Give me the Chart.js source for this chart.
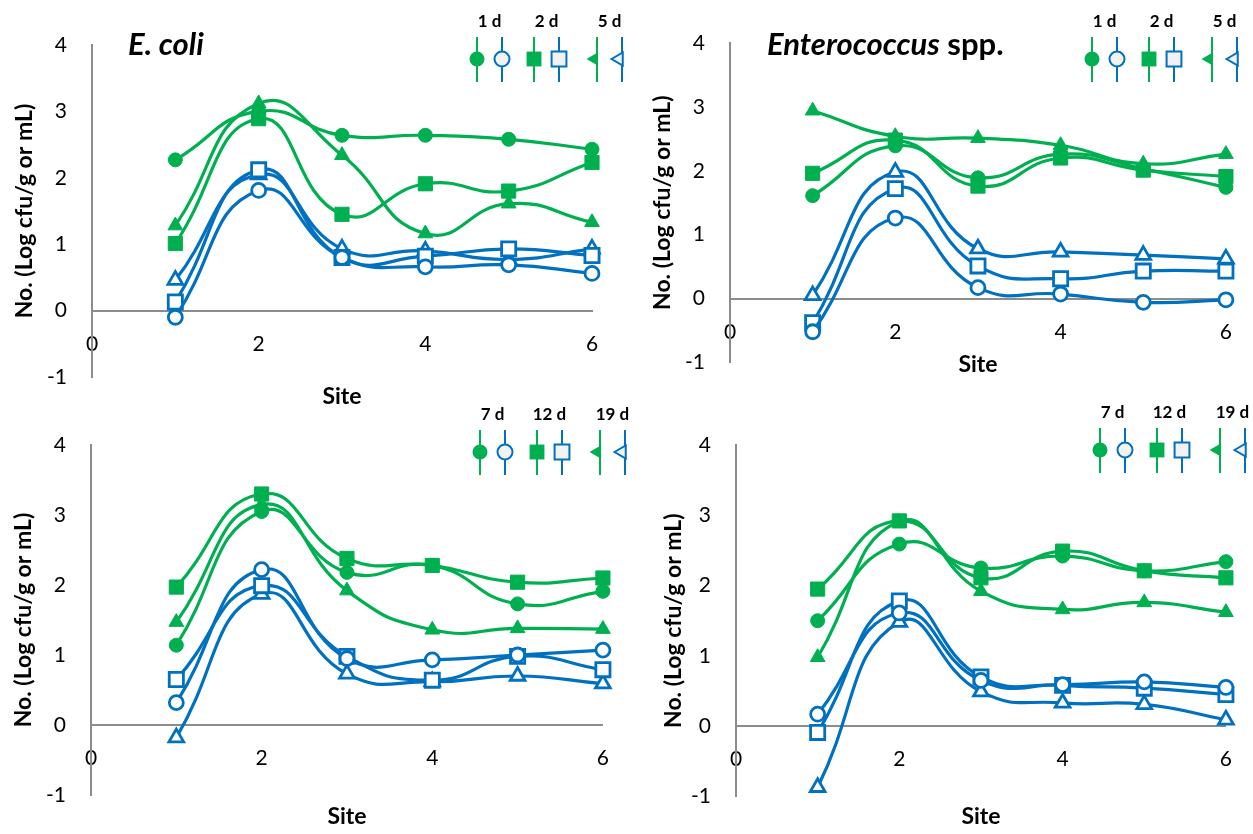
<!DOCTYPE html>
<html>
<head>
<meta charset="utf-8">
<title>Log counts by site</title>
<script src="https://cdn.jsdelivr.net/npm/chart.js@4.4.0/dist/chart.umd.min.js"></script>
<style>
  html, body { margin: 0; padding: 0; background: #fff; }
  body { position: relative; width: 1253px; height: 834px; overflow: hidden; }
  canvas { position: absolute; }
</style>
</head>
<body>
<canvas id="ecoliEarly"></canvas>
<canvas id="enteroEarly"></canvas>
<canvas id="ecoliLate"></canvas>
<canvas id="enteroLate"></canvas>
<script>
// Categories and tick labels
const sites = [1, 2, 3, 4, 5, 6];
const xTicks = [0, 2, 4, 6];
const yTicks = [-1, 0, 1, 2, 3, 4];
const earlyDays = ['1 d', '2 d', '5 d'];
const lateDays = ['7 d', '12 d', '19 d'];

// E. coli - 1 d, 2 d, 5 d (green = filled markers, blue = open markers)
const ecoliGreen1d = [2.27, 3.00, 2.64, 2.64, 2.58, 2.43];
const ecoliGreen2d = [1.01, 2.89, 1.45, 1.91, 1.80, 2.23];
const ecoliGreen5d = [1.28, 3.12, 2.34, 1.16, 1.61, 1.33];
const ecoliBlue1d = [-0.10, 1.81, 0.80, 0.66, 0.69, 0.56];
const ecoliBlue2d = [0.13, 2.12, 0.80, 0.82, 0.93, 0.83];
const ecoliBlue5d = [0.46, 2.05, 0.93, 0.90, 0.77, 0.93];

// Enterococcus spp. - 1 d, 2 d, 5 d
const enteroGreen1d = [1.61, 2.39, 1.89, 2.26, 2.03, 1.74];
const enteroGreen2d = [1.96, 2.48, 1.76, 2.20, 2.01, 1.91];
const enteroGreen5d = [2.94, 2.54, 2.51, 2.40, 2.11, 2.26];
const enteroBlue1d = [-0.52, 1.26, 0.17, 0.07, -0.06, -0.02];
const enteroBlue2d = [-0.38, 1.72, 0.51, 0.31, 0.43, 0.43];
const enteroBlue5d = [0.05, 1.98, 0.78, 0.73, 0.68, 0.62];

// E. coli - 7 d, 12 d, 19 d
const ecoliGreen7d = [1.14, 3.05, 2.18, 2.28, 1.73, 1.91];
const ecoliGreen12d = [1.97, 3.30, 2.38, 2.28, 2.04, 2.10];
const ecoliGreen19d = [1.47, 3.15, 1.92, 1.36, 1.38, 1.37];
const ecoliBlue7d = [0.32, 2.22, 0.95, 0.93, 1.00, 1.07];
const ecoliBlue12d = [0.65, 1.99, 0.98, 0.64, 0.98, 0.79];
const ecoliBlue19d = [-0.18, 1.87, 0.73, 0.62, 0.70, 0.59];

// Enterococcus spp. - 7 d, 12 d, 19 d
const enteroGreen7d = [1.50, 2.59, 2.25, 2.42, 2.21, 2.34];
const enteroGreen12d = [1.95, 2.92, 2.11, 2.49, 2.21, 2.11];
const enteroGreen19d = [0.98, 2.91, 1.92, 1.66, 1.76, 1.62];
const enteroBlue7d = [0.17, 1.61, 0.65, 0.59, 0.63, 0.55];
const enteroBlue12d = [-0.09, 1.78, 0.70, 0.58, 0.54, 0.45];
const enteroBlue19d = [-0.87, 1.48, 0.49, 0.33, 0.31, 0.09];

// Style
const GREEN = '#00B050';
const BLUE = '#0070C0';
const AXIS = '#8C8C8C';
const FONT = 'Lato, "Liberation Sans", sans-serif';
const TITLE_SIZE = 23;
const markers = [
    { style: 'circle', radius: 7 },
    { style: 'rect', radius: 10 },
    { style: 'triangle', radius: 8.5 }
];
const legendGroupX = [0, 57, 120];

function line(values, colour, marker, open) {
    return {
        data: sites.map((s, i) => ({ x: s, y: values[i] })),
        xAxisID: 'x',
        yAxisID: 'y',
        borderColor: colour,
        borderWidth: 3.2,
        tension: 0.5,
        clip: false,
        pointStyle: marker.style,
        pointRadius: marker.radius,
        pointHoverRadius: marker.radius,
        pointBackgroundColor: open ? '#fff' : colour,
        pointBorderColor: colour,
        pointBorderWidth: open ? 2.8 : 1
    };
}

// Excel-style legend: day label above a green/blue marker pair on vertical strokes
function dayLegend(labels, left, top) {
    return {
        id: 'dayLegend',
        afterDraw(chart) {
            const ctx = chart.ctx;
            ctx.save();
            labels.forEach((label, g) => {
                const gx = left + legendGroupX[g];
                const bx = gx + 25;
                ctx.fillStyle = '#000';
                ctx.font = 'bold 17px ' + FONT;
                ctx.textAlign = 'center';
                ctx.textBaseline = 'middle';
                ctx.fillText(label, (gx + bx) / 2, top);
                [[gx, GREEN, false], [bx, BLUE, true]].forEach(([x, colour, open]) => {
                    ctx.strokeStyle = colour;
                    ctx.lineWidth = 2;
                    ctx.beginPath();
                    ctx.moveTo(x, top + 15);
                    ctx.lineTo(x, top + 60);
                    ctx.stroke();
                    const m = markers[g];
                    const tri = m.style === 'triangle';
                    ctx.fillStyle = open ? '#F2F2F2' : colour;
                    ctx.lineWidth = 2;
                    Chart.helpers.drawPoint(ctx, {
                        pointStyle: m.style,
                        radius: tri ? 7.5 : m.radius + 0.5,
                        rotation: tri ? -90 : 0,
                        borderWidth: open ? 2 : 0
                    }, tri ? x - 3 : x, top + 37);
                });
            });
            ctx.restore();
        }
    };
}

function panelTitle(parts, x, y) {
    return {
        id: 'panelTitle',
        afterDraw(chart) {
            const ctx = chart.ctx;
            ctx.save();
            ctx.fillStyle = '#000';
            ctx.textAlign = 'left';
            ctx.textBaseline = 'middle';
            let cx = x;
            parts.forEach(p => {
                ctx.font = p.font;
                ctx.fillText(p.text, cx, y);
                cx += ctx.measureText(p.text).width;
            });
            ctx.restore();
        }
    };
}

function makePanel(id, box, area, yTitleX, siteY, days, sets, plugins) {
    const canvas = document.getElementById(id);
    canvas.width = box.w;
    canvas.height = box.h;
    canvas.style.left = box.x + 'px';
    canvas.style.top = box.y + 'px';

    const tickFont = { family: FONT, size: 21 };
    const titleFont = { family: FONT, size: TITLE_SIZE, weight: 'bold' };
    const halfLine = TITLE_SIZE * 1.2 / 2;

    const datasets = [];
    sets.green.forEach((v, i) => datasets.push(line(v, GREEN, markers[i], false)));
    sets.blue.forEach((v, i) => datasets.push(line(v, BLUE, markers[i], true)));

    new Chart(canvas, {
        type: 'line',
        data: { datasets },
        options: {
            responsive: false,
            animation: false,
            layout: {
                padding: { left: 0, top: area.top - box.y, right: box.x + box.w - area.right, bottom: 0 }
            },
            plugins: { legend: { display: false }, tooltip: { enabled: false } },
            scales: {
                x: {
                    type: 'linear',
                    position: { y: 0 },
                    min: 0,
                    max: 6,
                    afterBuildTicks: s => { s.ticks = xTicks.map(v => ({ value: v })); },
                    grid: { display: false, drawTicks: false },
                    border: { color: AXIS, width: 2 },
                    ticks: { padding: 21, font: tickFont, color: '#000' }
                },
                site: {
                    type: 'linear',
                    axis: 'x',
                    position: 'bottom',
                    min: 0,
                    max: 6,
                    afterFit: s => { s.height = box.y + box.h - area.bottom; },
                    grid: { display: false, drawTicks: false },
                    border: { display: false },
                    ticks: { display: false },
                    title: {
                        display: true,
                        text: 'Site',
                        font: titleFont,
                        color: '#000',
                        padding: { top: 0, bottom: Math.max(0, box.y + box.h - siteY - halfLine) }
                    }
                },
                y: {
                    type: 'linear',
                    position: 'left',
                    min: -1,
                    max: 4,
                    afterBuildTicks: s => { s.ticks = yTicks.map(v => ({ value: v })); },
                    afterFit: s => { s.width = area.left - box.x; },
                    grid: { display: false, drawTicks: false },
                    border: { color: AXIS, width: 2 },
                    ticks: { padding: 25, font: tickFont, color: '#000' },
                    title: {
                        display: true,
                        text: 'No. (Log cfu/g or mL)',
                        font: titleFont,
                        color: '#000',
                        padding: { top: yTitleX - box.x - halfLine, bottom: 0 }
                    }
                }
            }
        },
        plugins: [dayLegend(days, ...plugins.legend)].concat(plugins.title ? [plugins.title] : [])
    });
}

const italicTitle = 'italic bold 31px ' + FONT;
const plainTitle = 'bold 31px ' + FONT;

makePanel('ecoliEarly',
    { x: 0, y: 0, w: 630, h: 417 },
    { left: 92, right: 592, top: 45, bottom: 377 },
    25, 397, earlyDays,
    { green: [ecoliGreen1d, ecoliGreen2d, ecoliGreen5d], blue: [ecoliBlue1d, ecoliBlue2d, ecoliBlue5d] },
    { legend: [477, 22], title: panelTitle([{ text: 'E. coli', font: italicTitle }], 128, 45) });

makePanel('enteroEarly',
    { x: 630, y: 0, w: 623, h: 400 },
    { left: 730, right: 1242, top: 43, bottom: 375 },
    663, 377, earlyDays,
    { green: [enteroGreen1d, enteroGreen2d, enteroGreen5d], blue: [enteroBlue1d, enteroBlue2d, enteroBlue5d] },
    { legend: [462, 22], title: panelTitle([{ text: 'Enterococcus', font: italicTitle }, { text: ' spp.', font: plainTitle }], 137, 45) });

makePanel('ecoliLate',
    { x: 0, y: 400, w: 630, h: 434 },
    { left: 91, right: 604, top: 445, bottom: 795 },
    24, 817, lateDays,
    { green: [ecoliGreen7d, ecoliGreen12d, ecoliGreen19d], blue: [ecoliBlue7d, ecoliBlue12d, ecoliBlue19d] },
    { legend: [480, 15] });

makePanel('enteroLate',
    { x: 630, y: 400, w: 623, h: 434 },
    { left: 736, right: 1242, top: 445, bottom: 800 },
    674, 823, lateDays,
    { green: [enteroGreen7d, enteroGreen12d, enteroGreen19d], blue: [enteroBlue7d, enteroBlue12d, enteroBlue19d] },
    { legend: [470, 13] });
</script>
</body>
</html>
